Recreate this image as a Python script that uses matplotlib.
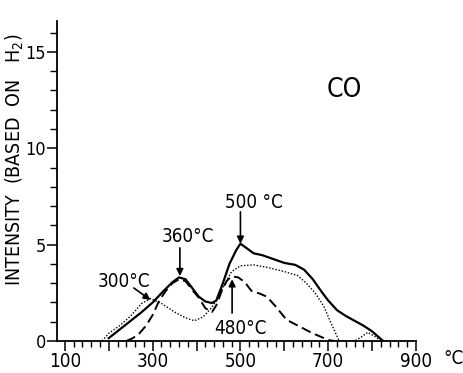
import matplotlib
matplotlib.use("Agg")
from matplotlib import pyplot as plt
from matplotlib.ticker import MultipleLocator, FixedLocator

plt.rcParams['font.family'] = ['DejaVu Sans']
plt.rcParams['font.stretch'] = 'condensed'  # DejaVu Sans Condensed, mas parecido al original
plt.rcParams['mathtext.fontset'] = 'dejavusans'

# curva continua
solid_t = [200, 225, 250, 275, 300, 325, 345, 360, 375, 390, 405, 420, 435, 445, 460, 475, 490, 500,
           515, 530, 550, 575, 600, 625, 645, 665, 685, 700, 720, 740, 760, 780, 800, 815, 825]
solid_y = [0.15, 0.6, 1.05, 1.5, 2.0, 2.6, 3.05, 3.3, 3.2, 2.75, 2.3, 2.05, 1.97, 2.1, 3.0, 4.0, 4.7, 5.05,
           4.8, 4.55, 4.45, 4.25, 4.05, 3.95, 3.7, 3.2, 2.55, 2.1, 1.6, 1.3, 1.05, 0.8, 0.5, 0.2, 0.0]

# curva punteada
dotted_t = [185, 200, 225, 250, 275, 295, 320, 350, 375, 395, 415, 435, 450, 465, 480, 500, 530, 565,
            600, 630, 650, 670, 690, 705, 715, 725, 760, 775, 790, 805, 820, 840]
dotted_y = [0.0, 0.4, 0.8, 1.3, 1.95, 2.2, 1.95, 1.5, 1.2, 1.05, 1.25, 1.75, 2.3, 3.0, 3.6, 3.9, 3.95, 3.8,
            3.6, 3.4, 3.0, 2.5, 1.8, 1.0, 0.5, 0.0, 0.0, 0.2, 0.45, 0.25, 0.02, 0.0]

# curva discontinua
dashed_t = [240, 255, 270, 285, 300, 315, 330, 345, 360, 375, 390, 405, 420, 435, 445, 460, 470, 480,
            495, 510, 525, 545, 560, 580, 605, 635, 660, 680, 700, 715]
dashed_y = [0.0, 0.15, 0.4, 0.8, 1.35, 2.1, 2.6, 3.0, 3.2, 3.1, 2.65, 2.25, 1.7, 1.5, 1.85, 2.75, 3.15, 3.35,
            3.3, 3.05, 2.6, 2.45, 2.3, 1.8, 1.1, 0.75, 0.45, 0.25, 0.05, 0.0]

x_labels = [100, 300, 500, 700, 900]
y_labels = [0, 5, 10, 15]

fig = plt.figure(figsize=(4.63, 3.73), dpi=100)
ax = fig.add_axes([57 / 463, 32 / 373, 359 / 463, 320 / 373])

ax.plot(solid_t, solid_y, color="k", linewidth=1.6)
ax.plot(dotted_t, dotted_y, color="k", linewidth=1.0, linestyle=(0, (1, 1.3)))
ax.plot(dashed_t, dashed_y, color="k", linewidth=1.4, linestyle=(0, (5, 2.5)))

ax.set_xlim(82, 900)
ax.set_ylim(0, 16.6)

ax.spines["top"].set_visible(False)
ax.spines["right"].set_visible(False)
ax.spines["left"].set_linewidth(1.3)
ax.spines["bottom"].set_linewidth(1.3)

ax.xaxis.set_major_locator(FixedLocator(range(100, 901, 100)))
ax.xaxis.set_minor_locator(MultipleLocator(20))
ax.set_xticklabels([str(v) if v in x_labels else "" for v in range(100, 901, 100)])
ax.yaxis.set_major_locator(FixedLocator(y_labels))
ax.yaxis.set_minor_locator(MultipleLocator(1))
ax.tick_params(axis="x", which="major", direction="out", length=7, width=1.1, pad=1, labelsize=13.5)
ax.tick_params(axis="x", which="minor", direction="out", length=4.5, width=1.0)
ax.tick_params(axis="y", which="major", direction="out", length=7, width=1.1, pad=1, labelsize=13)
ax.tick_params(axis="y", which="minor", direction="out", length=5, width=1.0)

fig.text(443 / 463, 1 - 358 / 373, "°C", fontsize=13.5, ha="left", va="center")
fig.text(15 / 463, 1 - 160 / 373, "INTENSITY  (BASED  ON   H$_2$)", fontsize=14,
         rotation=90, ha="center", va="center")

ax.text(737, 13.0, "CO", fontsize=19, ha="center", va="center")

flecha = dict(arrowstyle="-|>", color="k", lw=1.2, mutation_scale=10, shrinkA=0, shrinkB=0)
ax.annotate("", xy=(362, 3.37), xytext=(362, 4.83), arrowprops=flecha)
ax.text(381, 5.4, "360°C", fontsize=13.5, ha="center", va="center")
ax.annotate("", xy=(500, 5.05), xytext=(500, 6.7), arrowprops=flecha)
ax.text(530, 7.2, "500 °C", fontsize=13.5, ha="center", va="center")
ax.annotate("", xy=(295, 2.13), xytext=(257, 2.75), arrowprops=flecha)
ax.text(234, 3.1, "300°C", fontsize=13.5, ha="center", va="center")
ax.annotate("", xy=(481, 3.2), xytext=(481, 1.45), arrowprops=flecha)
ax.text(500, 0.67, "480°C", fontsize=13.5, ha="center", va="center")

fig.savefig("out.png", dpi=100, facecolor="white")
